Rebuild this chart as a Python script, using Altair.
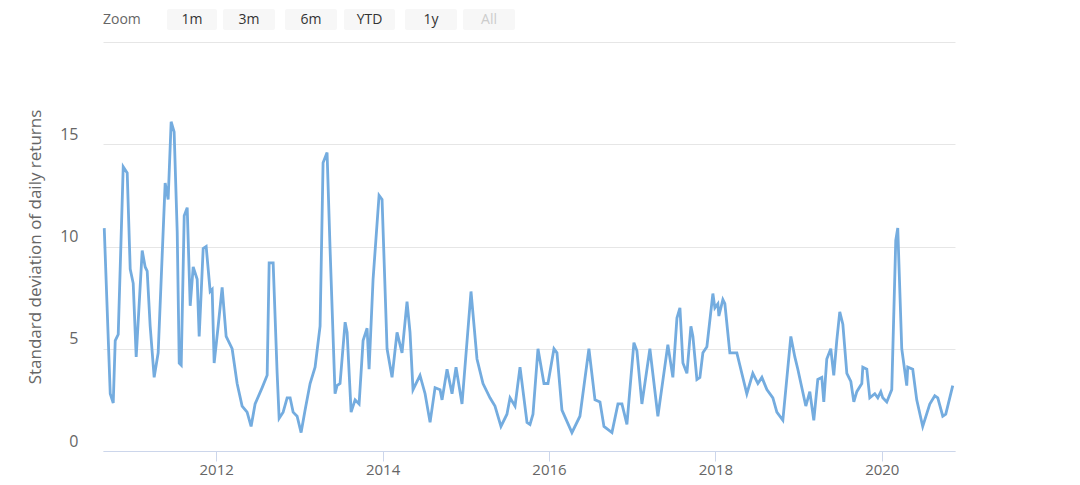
import altair as alt
import pandas as pd

# decimal year of each sample point
years = [
    2010.655, 2010.727, 2010.763, 2010.787, 2010.823, 2010.883, 2010.931, 2010.967, 2011.003, 2011.039,
    2011.111, 2011.147, 2011.171, 2011.207, 2011.255, 2011.303, 2011.387, 2011.423, 2011.459, 2011.495,
    2011.532, 2011.556, 2011.580, 2011.616, 2011.652, 2011.688, 2011.724, 2011.772, 2011.796, 2011.844,
    2011.880, 2011.928, 2011.952, 2011.976, 2012.024, 2012.072, 2012.120, 2012.192, 2012.252, 2012.312,
    2012.372, 2012.420, 2012.468, 2012.553, 2012.613, 2012.637, 2012.685, 2012.733, 2012.757, 2012.805,
    2012.853, 2012.889, 2012.925, 2012.973, 2013.021, 2013.069, 2013.129, 2013.189, 2013.249, 2013.285,
    2013.333, 2013.369, 2013.429, 2013.453, 2013.489, 2013.550, 2013.574, 2013.622, 2013.670, 2013.718,
    2013.766, 2013.814, 2013.838, 2013.886, 2013.958, 2013.994, 2014.054, 2014.114, 2014.174, 2014.234,
    2014.294, 2014.330, 2014.366, 2014.450, 2014.511, 2014.571, 2014.631, 2014.691, 2014.715, 2014.775,
    2014.835, 2014.883, 2014.955, 2015.063, 2015.135, 2015.207, 2015.291, 2015.351, 2015.423, 2015.495,
    2015.532, 2015.592, 2015.652, 2015.736, 2015.772, 2015.808, 2015.868, 2015.940, 2015.988, 2016.060,
    2016.096, 2016.156, 2016.276, 2016.372, 2016.480, 2016.553, 2016.613, 2016.661, 2016.757, 2016.829,
    2016.877, 2016.937, 2017.021, 2017.057, 2017.117, 2017.213, 2017.309, 2017.429, 2017.489, 2017.538,
    2017.574, 2017.610, 2017.658, 2017.706, 2017.730, 2017.778, 2017.814, 2017.850, 2017.898, 2017.970,
    2017.994, 2018.030, 2018.042, 2018.090, 2018.114, 2018.174, 2018.258, 2018.378, 2018.450, 2018.511,
    2018.559, 2018.619, 2018.691, 2018.739, 2018.811, 2018.907, 2018.955, 2018.991, 2019.087, 2019.135,
    2019.183, 2019.231, 2019.279, 2019.303, 2019.339, 2019.387, 2019.423, 2019.459, 2019.495, 2019.532,
    2019.580, 2019.628, 2019.664, 2019.700, 2019.760, 2019.772, 2019.820, 2019.856, 2019.916, 2019.952,
    2019.988, 2020.012, 2020.060, 2020.120, 2020.168, 2020.192, 2020.240, 2020.300, 2020.312, 2020.372,
    2020.420, 2020.492, 2020.577, 2020.637, 2020.673, 2020.733, 2020.769, 2020.853,
]

# standard deviation of daily returns at each point
std_dev = [
    10.9, 2.8, 2.35, 5.4, 5.7, 13.9, 13.6, 8.9, 8.2, 4.6,
    9.8, 9.0, 8.8, 6.1, 3.6, 4.8, 13.1, 12.3, 16.1, 15.6,
    10.7, 4.3, 4.2, 11.5, 11.9, 7.1, 9.0, 8.4, 5.6, 9.9,
    10.0, 7.8, 7.9, 4.3, 6.1, 8.0, 5.6, 5.0, 3.3, 2.2,
    1.9, 1.2, 2.3, 3.1, 3.7, 9.2, 9.2, 3.8, 1.6, 1.9,
    2.6, 2.6, 1.9, 1.7, 0.9, 2.0, 3.3, 4.1, 6.1, 14.1,
    14.6, 9.9, 2.8, 3.2, 3.3, 6.3, 5.8, 1.9, 2.5, 2.3,
    5.4, 6.0, 4.0, 8.4, 12.5, 12.3, 5.0, 3.6, 5.8, 4.8,
    7.3, 5.8, 3.0, 3.7, 2.8, 1.4, 3.1, 3.0, 2.5, 4.0,
    2.8, 4.1, 2.3, 7.8, 4.5, 3.3, 2.6, 2.2, 1.2, 1.8,
    2.6, 2.2, 4.1, 1.4, 1.3, 1.8, 5.0, 3.3, 3.3, 5.0,
    4.8, 2.0, 0.9, 1.7, 5.0, 2.5, 2.4, 1.2, 0.9, 2.3,
    2.3, 1.3, 5.3, 4.9, 2.3, 5.0, 1.7, 5.2, 3.6, 6.5,
    7.0, 4.3, 3.8, 6.1, 5.6, 3.5, 3.6, 4.8, 5.1, 7.7,
    7.0, 7.2, 6.6, 7.4, 7.2, 4.8, 4.8, 2.8, 3.8, 3.3,
    3.6, 3.0, 2.6, 1.9, 1.5, 5.6, 4.6, 4.0, 2.2, 2.9,
    1.5, 3.5, 3.6, 2.4, 4.5, 5.0, 3.7, 5.4, 6.8, 6.2,
    3.8, 3.4, 2.4, 2.9, 3.3, 4.1, 4.0, 2.6, 2.8, 2.6,
    2.9, 2.6, 2.4, 3.0, 10.3, 10.9, 5.0, 3.2, 4.1, 4.0,
    2.5, 1.2, 2.3, 2.7, 2.6, 1.7, 1.8, 3.2,
]

x_ticks = [2012, 2014, 2016, 2018, 2020]
y_ticks = [0, 5, 10, 15, 20]
zoom_buttons = ["1m", "3m", "6m", "YTD", "1y", "All"]

FONT = "Open Sans"
df = pd.DataFrame({"year": years, "sd": std_dev})

line = alt.Chart(df).mark_line(color="#74acdf", strokeWidth=2.8).encode(
    x=alt.X(
        "year:Q",
        scale=alt.Scale(domain=[2010.64, 2020.88], nice=False, zero=False),
        axis=alt.Axis(
            values=x_ticks, format="d", title=None, grid=False,
            domainColor="#ccd6eb", tickColor="#ccd6eb", tickSize=10,
            labelColor="#666666", labelFontSize=15, labelFont=FONT, labelPadding=1,
        ),
    ),
    y=alt.Y(
        "sd:Q",
        scale=alt.Scale(domain=[0, 20], nice=False),
        axis=alt.Axis(
            values=y_ticks, title="Standard deviation of daily returns",
            labelExpr="datum.value == 20 ? '' : datum.label",
            grid=True, gridColor="#e6e6e6", domain=False, ticks=False,
            labelColor="#666666", labelFontSize=16, labelFont=FONT,
            labelPadding=25, labelOffset=-10,
            titleColor="#666666", titleFontSize=17, titleFont=FONT, titleFontWeight="normal",
            titleX=-68, titleY=204.5, titleAngle=-90, titleAlign="center", titleBaseline="middle",
        ),
    ),
)

dummy = pd.DataFrame({"a": [0]})
layers = [line]
layers.append(
    alt.Chart(dummy).mark_text(
        text="Zoom", align="left", baseline="middle", fontSize=14, font=FONT, color="#666666"
    ).encode(x=alt.value(0), y=alt.value(-22))
)
btn_edges = [(64, 114), (120, 172), (182, 234), (241, 292), (302, 354), (360, 412)]
for label, (x0, x1) in zip(zoom_buttons, btn_edges):
    layers.append(
        alt.Chart(dummy).mark_rect(fill="#f7f7f7", cornerRadius=2).encode(
            x=alt.value(x0), x2=alt.value(x1), y=alt.value(-33), y2=alt.value(-12)
        )
    )
    layers.append(
        alt.Chart(dummy).mark_text(
            text=label, align="center", baseline="middle", fontSize=14, font=FONT,
            color="#cccccc" if label == "All" else "#333333",
        ).encode(x=alt.value((x0 + x1) / 2), y=alt.value(-22))
    )

chart = alt.layer(*layers).properties(
    width=852, height=409,
    background="white",
    autosize=alt.AutoSizeParams(type="none"),
    padding={"left": 95, "top": 34, "right": 117, "bottom": 26},
).configure_view(stroke=None, strokeWidth=0)

chart.save("out.html", embed_options={"renderer": "svg", "actions": False})
